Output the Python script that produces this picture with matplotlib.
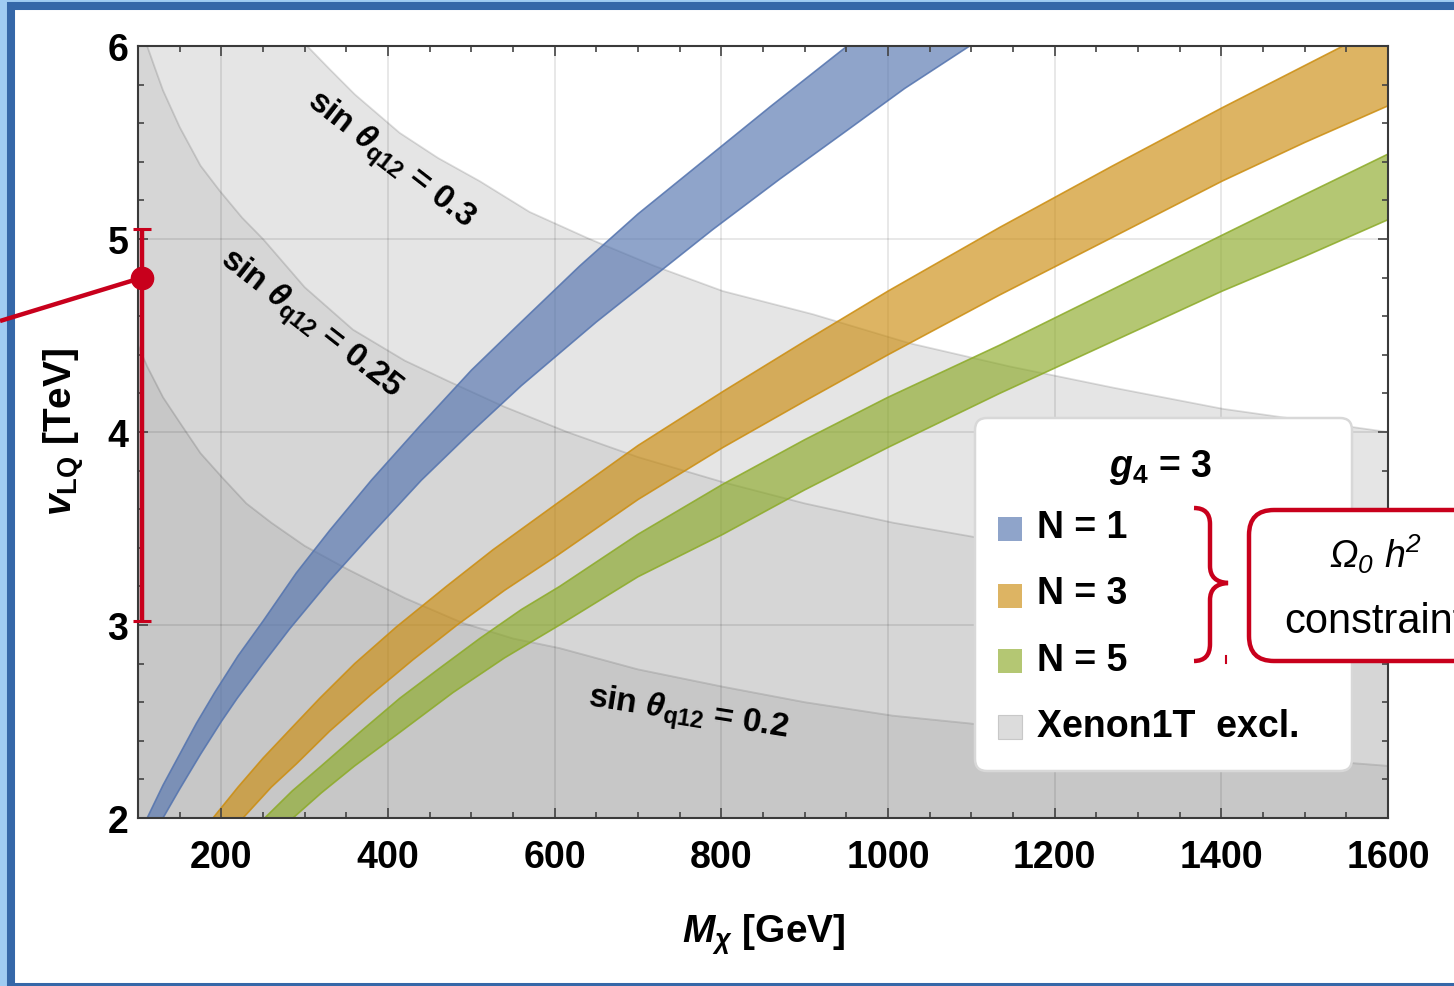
import numpy as np
import matplotlib
matplotlib.use("Agg")
import matplotlib.pyplot as plt
from matplotlib.patches import Rectangle, FancyBboxPatch, PathPatch
from matplotlib.path import Path
from matplotlib.ticker import MultipleLocator

plt.rcParams["font.family"] = ["Liberation Sans", "DejaVu Sans"]
plt.rcParams["mathtext.fontset"] = "custom"
plt.rcParams["mathtext.rm"] = "Liberation Sans:bold"
plt.rcParams["mathtext.bf"] = "Liberation Sans:bold"
plt.rcParams["mathtext.it"] = "Liberation Sans:italic:bold"
plt.rcParams["mathtext.sf"] = "Liberation Sans:italic"

# ---- Xenon1T exclusion boundaries, v_LQ [TeV] vs M_X [GeV] ----
xe03_M = [100, 303, 330, 360, 414, 460, 510, 570, 642, 720, 802, 910, 1026,
          1146, 1270, 1402, 1500, 1600]
xe03_v = [6.0, 6.0, 5.88, 5.75, 5.55, 5.42, 5.30, 5.14, 5.0, 4.86, 4.73, 4.61,
          4.46, 4.34, 4.23, 4.12, 4.06, 4.0]

xe025_M = [100, 111, 120, 130, 150, 175, 198, 225, 250, 300, 358, 420, 474,
           540, 615, 700, 802, 900, 1006, 1098, 1200, 1300, 1450, 1600]
xe025_v = [6.0, 6.0, 5.89, 5.77, 5.58, 5.38, 5.25, 5.11, 5.0, 4.75, 4.53, 4.37,
           4.26, 4.13, 4.0, 3.87, 3.74, 3.63, 3.53, 3.46, 3.38, 3.30, 3.20, 3.12]

xe02_M = [100, 111, 130, 150, 175, 202, 230, 260, 300, 351, 420, 490, 550,
          606, 700, 802, 900, 1006, 1098, 1200, 1300, 1450, 1600]
xe02_v = [4.45, 4.34, 4.18, 4.05, 3.89, 3.76, 3.63, 3.53, 3.41, 3.29, 3.14,
          3.01, 2.93, 2.88, 2.77, 2.68, 2.60, 2.53, 2.49, 2.44, 2.38, 2.32, 2.27]

xenon_curves = [(xe03_M, xe03_v, "#e5e5e5"),
                (xe025_M, xe025_v, "#d6d6d6"),
                (xe02_M, xe02_v, "#c7c7c7")]

# ---- relic density bands: upper and lower edges ----
blue_hi_M = [111, 130, 150, 170, 192, 220, 250, 290, 330, 380, 438, 500, 555,
             630, 700, 780, 860, 951]
blue_hi_v = [2.0, 2.17, 2.33, 2.49, 2.65, 2.84, 3.02, 3.27, 3.49, 3.75, 4.03,
             4.32, 4.55, 4.86, 5.13, 5.41, 5.69, 6.0]
blue_lo_M = [130, 150, 175, 200, 219, 250, 282, 330, 380, 440, 495, 560, 650,
             720, 790, 870, 950, 1020, 1098]
blue_lo_v = [2.0, 2.15, 2.33, 2.50, 2.62, 2.80, 2.98, 3.23, 3.47, 3.75, 3.98,
             4.24, 4.57, 4.81, 5.05, 5.31, 5.56, 5.78, 6.0]

orange_hi_M = [190, 220, 250, 285, 318, 360, 410, 470, 526, 606, 700, 802, 900,
               1000, 1134, 1270, 1401, 1546, 1600]
orange_hi_v = [2.0, 2.16, 2.31, 2.47, 2.62, 2.80, 2.99, 3.20, 3.39, 3.64, 3.93,
               4.21, 4.47, 4.73, 5.06, 5.38, 5.68, 6.0, 6.0]
orange_lo_M = [226, 260, 290, 330, 380, 430, 483, 540, 603, 700, 802, 900, 1000,
               1134, 1270, 1401, 1500, 1600]
orange_lo_v = [2.0, 2.16, 2.28, 2.45, 2.64, 2.82, 3.0, 3.18, 3.36, 3.65, 3.92,
               4.16, 4.40, 4.71, 5.01, 5.30, 5.50, 5.69]

green_hi_M = [252, 285, 320, 365, 414, 460, 510, 560, 606, 700, 802, 900, 1000,
              1134, 1270, 1401, 1500, 1600]
green_hi_v = [2.0, 2.14, 2.27, 2.44, 2.62, 2.77, 2.93, 3.08, 3.20, 3.47, 3.73,
              3.96, 4.18, 4.45, 4.74, 5.02, 5.23, 5.44]
green_lo_M = [286, 320, 360, 410, 478, 540, 606, 700, 802, 900, 1000, 1134,
              1270, 1401, 1500, 1600]
green_lo_v = [2.0, 2.13, 2.27, 2.43, 2.65, 2.83, 3.0, 3.25, 3.47, 3.70, 3.92,
              4.20, 4.47, 4.73, 4.91, 5.10]

bands = [("N = 1", blue_hi_M, blue_hi_v, blue_lo_M, blue_lo_v, "#5373ae"),
         ("N = 3", orange_hi_M, orange_hi_v, orange_lo_M, orange_lo_v, "#cb8d10"),
         ("N = 5", green_hi_M, green_hi_v, green_lo_M, green_lo_v, "#8caa28")]
band_alpha = 0.65

# vLQ range marker
vlq_M = 105
vlq_lo, vlq_mid, vlq_hi = 3.02, 4.80, 5.05

x_major = [200, 400, 600, 800, 1000, 1200, 1400, 1600]
y_major = [2, 3, 4, 5, 6]

RED = "#c8001c"
W, H = 1454, 987

fig = plt.figure(figsize=(W / 100, H / 100), dpi=100)
fig.patch.set_facecolor("#9fcbf2")

# slide frame
bg = fig.add_axes([0, 0, 1, 1], zorder=0)
bg.set_xlim(0, W)
bg.set_ylim(H, 0)
bg.axis("off")
bg.add_patch(Rectangle((11, 6.5), W + 40, 981.5, facecolor="white",
                       edgecolor="#3567a8", linewidth=5.8))

ax = fig.add_axes([138 / W, (H - 819) / H, 1250 / W, 772 / H], zorder=1)
ax.set_facecolor("white")
ax.set_xlim(100, 1600)
ax.set_ylim(2, 6)

for M, v, col in xenon_curves:
    ax.fill_between(M, 0, v, color=col, linewidth=0, zorder=0.5)
    ax.plot(M, v, color=(0, 0, 0, 0.13), lw=1.3, zorder=0.6)

for x in x_major[:-1]:
    ax.axvline(x, color=(0, 0, 0, 0.11), lw=1.2, zorder=0.8)
for y in y_major[1:-1]:
    ax.axhline(y, color=(0, 0, 0, 0.11), lw=1.2, zorder=0.8)

for name, hM, hv, lM, lv, col in bands:
    xs = list(hM) + list(lM[::-1])
    ys = list(hv) + list(lv[::-1])
    ax.fill(xs, ys, facecolor=col, alpha=band_alpha, linewidth=0, zorder=1)
    ax.plot(hM, hv, color=col, alpha=0.85, lw=1.2, zorder=1.1)
    ax.plot(lM, lv, color=col, alpha=0.85, lw=1.2, zorder=1.1)

ax.text(402, 5.41, r"sin $\theta_{\mathrm{q12}}$ = $\mathit{0.3}$", fontsize=24,
        fontweight="bold", rotation=-37.8, ha="center", va="center",
        rotation_mode="anchor", zorder=3)
ax.text(306, 4.56, r"sin $\theta_{\mathrm{q12}}$ = $\mathit{0.25}$", fontsize=24,
        fontweight="bold", rotation=-38, ha="center", va="center",
        rotation_mode="anchor", zorder=3)
ax.text(760, 2.54, r"sin $\theta_{\mathrm{q12}}$ = $\mathit{0.2}$", fontsize=24,
        fontweight="bold", rotation=-9, ha="center", va="center",
        rotation_mode="anchor", zorder=3)

ax.set_xticks(x_major)
ax.set_yticks(y_major)
ax.xaxis.set_minor_locator(MultipleLocator(50))
ax.yaxis.set_minor_locator(MultipleLocator(0.2))
ax.tick_params(which="both", direction="in", top=True, right=True,
               color="#444444", width=1.2)
ax.tick_params(which="major", length=7)
ax.tick_params(which="minor", length=4.5)
ax.tick_params(axis="x", which="major", pad=15, labelsize=27)
ax.tick_params(axis="y", which="major", pad=7, labelsize=27)
for lab in ax.get_xticklabels() + ax.get_yticklabels():
    lab.set_fontweight("bold")
for s in ax.spines.values():
    s.set_color("#3a3a3a")
    s.set_linewidth(1.5)

# v_LQ range with central value
ax.plot([vlq_M, vlq_M], [vlq_lo, vlq_hi], color=RED, lw=3.2, clip_on=False,
        zorder=6, solid_capstyle="butt")
ax.plot([vlq_M, vlq_M], [vlq_lo, vlq_hi], ls="none", marker="_", ms=13,
        mew=2.2, color=RED, clip_on=False, zorder=6)
ax.plot([vlq_M], [vlq_mid], marker="o", ms=16, color=RED, clip_on=False, zorder=7)

fig.text(64 / W, 1 - 432 / H, r"$v_{\mathrm{LQ}}$ [TeV]", rotation=90, fontsize=28,
         fontweight="bold", ha="center", va="center")
fig.text(764 / W, 1 - 935 / H, r"$M_\chi$ [GeV]", fontsize=28,
         fontweight="bold", ha="center", va="center")

# overlay in pixel coordinates
ov = fig.add_axes([0, 0, 1, 1], zorder=2)
ov.set_xlim(0, W)
ov.set_ylim(H, 0)
ov.axis("off")

dot_px = ov.transData.inverted().transform(ax.transData.transform((vlq_M, vlq_mid)))
ov.plot([0, dot_px[0]], [322, dot_px[1]], color=RED, lw=3.2, solid_capstyle="butt")

# legend box
ov.add_patch(FancyBboxPatch((975, 419), 377, 353,
                            boxstyle="round,pad=0,rounding_size=12",
                            facecolor="white", edgecolor="#d8d8d8", lw=1.8))
ov.text(1160, 477, r"$g_4$ = 3", fontsize=27, fontweight="bold",
        ha="center", va="baseline")
entry_y = [530, 597, 662, 728]
text_base = [538, 604, 671, 737]
for (name, *_, col), yc, yb in zip(bands, entry_y, text_base):
    ov.add_patch(Rectangle((998, yc - 12), 24, 24, facecolor=col,
                           alpha=band_alpha, linewidth=0))
    ov.text(1037, yb, name, fontsize=27, fontweight="bold", va="baseline")
ov.add_patch(Rectangle((998, entry_y[3] - 12), 24, 24, facecolor="#dcdcdc",
                       edgecolor="#c8c8c8", linewidth=0.8))
ov.text(1037, text_base[3], "Xenon1T  excl.", fontsize=27, fontweight="bold",
        va="baseline")

# brace and relic-density box
brace = Path([(1194, 509), (1210, 509), (1210, 525), (1210, 567),
              (1210, 583), (1228, 584), (1210, 585), (1210, 601),
              (1210, 645), (1210, 662), (1194, 662)],
             [Path.MOVETO, Path.CURVE3, Path.CURVE3, Path.LINETO,
              Path.CURVE3, Path.CURVE3, Path.CURVE3, Path.CURVE3,
              Path.LINETO, Path.CURVE3, Path.CURVE3])
ov.add_patch(PathPatch(brace, facecolor="none", edgecolor=RED, lw=3.2))
ov.plot([1226, 1226], [657, 664], color=RED, lw=1.5)

ov.add_patch(FancyBboxPatch((1249, 511), 320, 151,
                            boxstyle="round,pad=0,rounding_size=25",
                            facecolor="white", edgecolor=RED, lw=3.2))
ov.text(1376, 568, r"$\mathsf{Ω_0\ h^2}$", fontsize=27, ha="center",
        va="baseline")
ov.text(1284, 633, "constraint", fontsize=30, ha="left", va="baseline")

fig.savefig("out.png", dpi=100, facecolor=fig.get_facecolor())
